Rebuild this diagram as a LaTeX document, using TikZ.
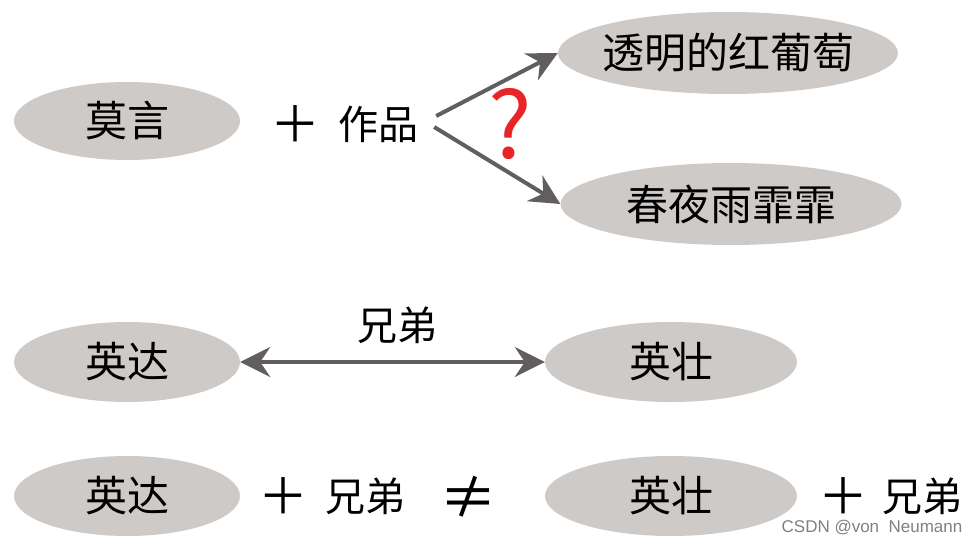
\documentclass[tikz,border=0pt]{standalone}
\usepackage{fontspec}
\setmainfont{Noto Sans CJK SC}
\newfontfamily\marksans{Liberation Sans}
\usepackage{tikz}
\usetikzlibrary{arrows.meta, shapes.geometric}
\usepackage{xcolor}
\definecolor{bubble}{RGB}{206, 202, 200}
\definecolor{linkGray}{RGB}{98, 94, 94}
\definecolor{askRed}{RGB}{232, 36, 40}

\begin{document}
\begin{tikzpicture}[
  x=1pt, y=-1pt,
  person/.style={ellipse, fill=bubble, inner sep=0pt, minimum height=80pt, font=\fontsize{42}{48}\selectfont},
  title/.style={person, inner xsep=-14pt, minimum height=82pt},
  word/.style={inner sep=0pt, font=\fontsize{40}{46}\selectfont},
  plus/.style={inner sep=0pt, font=\fontsize{50}{56}\selectfont},
  link/.style={line width=4pt, linkGray},
  >={Stealth[length=30pt, width=30pt, inset=10pt]}
]
  \useasboundingbox (0,0) rectangle (979,546);

  % Mo Yan and his works
  \node[person, minimum width=226pt, minimum height=78pt] (moyan) at (127,121) {莫言};
  \node[plus] (plusA) at (295,124) {＋};
  \node[word] (works) at (378,124) {作品};
  \node[title, minimum width=340pt] (grape) at (728,53) {透明的红葡萄};
  \node[title, minimum width=341pt] (rain) at (731,204) {春夜雨霏霏};
  \node[inner sep=0pt, askRed, font=\fontsize{92}{96}\selectfont] (ask) at (510,124) {?};

  \draw[link, ->] ([xshift=18pt, yshift=8pt]works.east) -- (grape.west);
  \draw[link, ->] ([xshift=16pt, yshift=-3pt]works.east) -- (rain.west);

  % brothers, as a relation
  \node[person, minimum width=226pt] (yingda) at (127,362) {英达};
  \node[person, minimum width=252pt] (yingzhuang) at (671,362) {英壮};
  \node[word] (brother) at (397,325) {兄弟};
  \draw[link, <->] (yingda) -- (yingzhuang);

  % brothers, as words added
  \node[person, minimum width=226pt] (yingdaB) at (127,496) {英达};
  \node[plus] (plusB) at (283,496) {＋};
  \node[word] (brotherB) at (365,496) {兄弟};
  \node[word, font=\fontsize{58}{64}\selectfont] (noteq) at (468,497) {≠};
  \node[person, minimum width=252pt] (yingzhuangB) at (671,496) {英壮};
  \node[plus] (plusC) at (843,496) {＋};
  \node[word] (brotherC) at (922,496) {兄弟};

  \node[inner sep=0pt, gray, font=\marksans\fontsize{17}{19}\selectfont] (mark) at (872,528) {CSDN @von\ \ Neumann};
\end{tikzpicture}
\end{document}
